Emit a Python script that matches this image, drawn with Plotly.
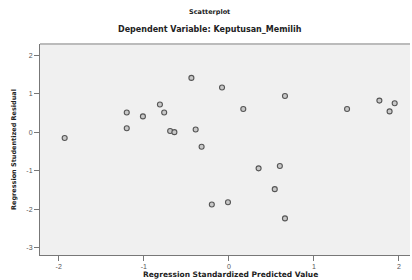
import plotly.graph_objects as go

pred = [-1.93, -1.20, -1.20, -1.01, -0.81, -0.76, -0.69, -0.64, -0.44, -0.39, -0.32, -0.20,
        -0.08, -0.01, 0.17, 0.35, 0.60, 0.54, 0.66, 0.66, 1.39, 1.77, 1.95, 1.89]
resid = [-0.15, 0.51, 0.10, 0.41, 0.72, 0.51, 0.03, 0.00, 1.41, 0.07, -0.38, -1.88,
         1.16, -1.82, 0.60, -0.94, -0.88, -1.48, 0.94, -2.24, 0.60, 0.82, 0.75, 0.54]
x_ticks = [-2, -1, 0, 1, 2]
y_ticks = [2, 1, 0, -1, -2, -3]

W, H = 412, 280
L, R, T, B = 40, 2, 44, 25
pw, ph = W - L - R, H - T - B

def px_x(x):
    return (x - L) / pw

def px_y(y):
    return (H - B - y) / ph

fig = go.Figure(go.Scatter(
    x=pred, y=resid, mode="markers",
    marker=dict(symbol="circle", size=5, color="#c8c8c8",
                line=dict(width=1.1, color="#555")),
))

font_b = "DejaVu Sans, Arial"
fig.update_layout(
    width=W, height=H,
    margin=dict(l=L, r=R, t=T, b=B),
    paper_bgcolor="white", plot_bgcolor="#f0f0f0",
    font=dict(family="Liberation Sans, Arial", size=7, color="#444"),
    showlegend=False,
    annotations=[
        dict(text="<b>Scatterplot</b>", x=px_x(209), y=px_y(12),
             xref="paper", yref="paper", xanchor="center", yanchor="middle",
             showarrow=False, font=dict(size=6.5, family=font_b, color="#222")),
        dict(text="<b>Dependent Variable: Keputusan_Memilih</b>", x=px_x(210), y=px_y(30),
             xref="paper", yref="paper", xanchor="center", yanchor="middle",
             showarrow=False, font=dict(size=8, family=font_b, color="#222")),
        dict(text="<b>Regression Standardized Predicted Value</b>", x=px_x(230), y=px_y(274),
             xref="paper", yref="paper", xanchor="center", yanchor="middle",
             showarrow=False, font=dict(size=7.5, family=font_b, color="#222")),
        dict(text="<b>Regression Studentized Residual</b>", x=px_x(14), y=px_y(150),
             xref="paper", yref="paper", xanchor="center", yanchor="middle",
             textangle=-90,
             showarrow=False, font=dict(size=6.5, family=font_b, color="#222")),
    ],
)

fig.update_xaxes(
    range=[-2.22, 2.13], tickvals=x_ticks, ticktext=[str(v) for v in x_ticks],
    showgrid=False, zeroline=False, showline=True, linecolor="#777", linewidth=1,
    ticks="outside", ticklen=5, tickcolor="#777",
    tickfont=dict(size=7, color="#555"),
)
fig.update_yaxes(
    range=[-3.19, 2.29], tickvals=y_ticks, ticktext=[str(v) for v in y_ticks],
    showgrid=False, zeroline=False, showline=True, linecolor="#777", linewidth=1,
    ticks="outside", ticklen=5, tickcolor="#777",
    tickfont=dict(size=7, color="#555"),
)
fig.add_shape(type="line", xref="paper", yref="paper", x0=0, x1=1, y0=1, y1=1,
              line=dict(color="#bbb", width=2))

fig.write_html("out.html", config={"displayModeBar": False},
               post_script="document.body.style.margin='0';")
